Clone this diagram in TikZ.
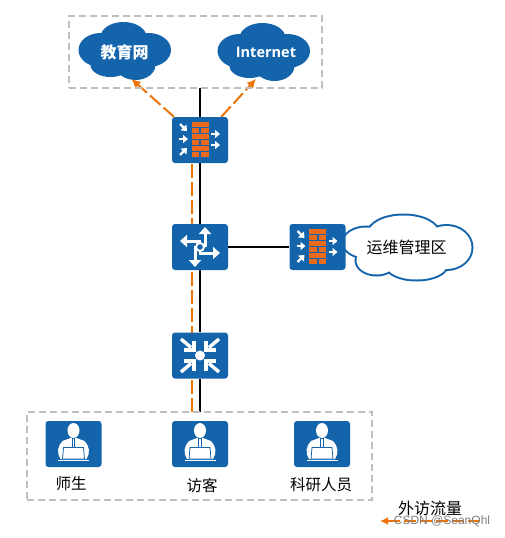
\documentclass[tikz,border=0pt]{standalone}
\usepackage{fontspec}
\setmainfont{Noto Sans CJK SC}
\newfontfamily\latinfont{Open Sans}
\newfontfamily\markfont{Liberation Sans}
\usetikzlibrary{arrows.meta,backgrounds}

\definecolor{iconblue}{HTML}{1464AC}
\definecolor{brick}{HTML}{EC6A1C}
\definecolor{flowcolor}{HTML}{EE7308}
\definecolor{zonegray}{HTML}{BFBFBF}

\tikzset{
	device/.style={fill=iconblue, rounded corners=3pt, minimum width=56pt, minimum height=46pt, inner sep=0pt},
	zone/.style={draw=zonegray, line width=1.8pt, dash pattern=on 7pt off 4pt, inner sep=0pt},
	cloudtext/.style={text=white, font=\fontsize{16}{16}\selectfont\bfseries, inner sep=0pt},
	label/.style={font=\fontsize{15.5}{16}\selectfont, inner sep=0pt},
	link/.style={black, line width=2pt},
	flow/.style={flowcolor, line width=2pt, dash pattern=on 14pt off 4pt},
	whitearrow/.style={white, line width=2.2pt, -{Triangle[length=5pt, width=8pt]}},
	routearrow/.style={white, line width=3pt, -{Triangle[length=7pt, width=12pt]}},
	pics/bluepuffs/.style={code={
		\foreach \px/\py/\rx/\ry in {-24/-1/22/17, -1/-14/23/15, 24/-1/22.5/17, -14/14/20/12, 11/14/20/15}
			\fill[iconblue] (\px,\py) ellipse (\rx pt and \ry pt);
		\fill[iconblue] (-20,-8) rectangle (20,10);
	}},
	pics/openpuffs/.style={code={
		\foreach \px/\py/\rx/\ry in {-3/-14/35/18, -40/-5/23/15, 40/0/25/21.5, -30/13/20/14, 10/18/30/14}
			\draw[iconblue, line width=4pt] (\px,\py) ellipse (\rx pt and \ry pt);
		\foreach \px/\py/\rx/\ry in {-3/-14/35/18, -40/-5/23/15, 40/0/25/21.5, -30/13/20/14, 10/18/30/14}
			\fill[white] (\px,\py) ellipse (\rx pt and \ry pt);
		\fill[white] (-40,-8) rectangle (30,12);
	}},
	pics/firewall/.style={code={
		\foreach \y in {-18,-6,6}
			\fill[brick] (-8.5,\y) rectangle (8.5,\y+5);
		\foreach \y in {-12,0,12} {
			\fill[brick] (-8.5,\y) rectangle (-1,\y+5);
			\fill[brick] (1,\y) rectangle (8.5,\y+5);
		}
		\draw[whitearrow] (-20,-16) -- (-13,-9);
		\draw[whitearrow] (-21,-1) -- (-12,-1);
		\draw[whitearrow] (-20,15) -- (-13,8);
		\draw[whitearrow] (11,-6) -- (20,-6);
		\draw[whitearrow] (11,5) -- (20,5);
	}},
	pics/routing/.style={code={
		\draw[routearrow] (5,0) -- (5,-20);
		\draw[routearrow] (1,-6) -- (-20,-6);
		\draw[routearrow] (-5,-1) -- (-5,20);
		\draw[routearrow] (-1,6) -- (20,6);
		\draw[white, line width=2pt] (0,0) circle (4);
	}},
	pics/switching/.style={code={
		\foreach \sx/\sy in {1/1,1/-1,-1/1,-1/-1} {
			\draw[white, line width=3.4pt] (\sx*19,\sy*16.5) -- (\sx*9,\sy*8);
			\draw[white, line width=3.4pt] (\sx*6,\sy*15) -- (\sx*6,\sy*5.5) -- (\sx*16,\sy*5.5);
		}
		\fill[white] (0,0) circle (5);
	}},
	pics/person/.style={code={
		\fill[white] (0,-13.5) ellipse (6 and 7.5);
		\fill[white] (-3,-6) -- (-11,-3) .. controls (-16,2) and (-17,9) .. (-13,15) -- (13,15) .. controls (17,9) and (16,2) .. (11,-3) -- (3,-6) -- cycle;
		\fill[iconblue] (-1.7,-6) rectangle (1.7,3);
		\fill[white] (-.8,-5) rectangle (.8,3);
		\draw[iconblue, fill=white, line width=.8pt] (-10,3.5) -- (10,3.5) -- (11,15) -- (-11,15) -- cycle;
		\fill[white] (-15.5,15.5) rectangle (15.5,17);
	}},
}

\begin{document}
\begin{tikzpicture}[x=1pt, y=-1pt]
	\useasboundingbox (0,0) rectangle (505,538);

	\node[zone, minimum width=253pt, minimum height=72pt] (zonetop) at (195.5,52) {};
	\node[zone, minimum width=345pt, minimum height=88pt] (zoneusers) at (199.5,456) {};

	\node[cloudtext] (educloud) at (124.5,52) {教育网};
	\node[cloudtext, font=\fontsize{14.5}{16}\selectfont\latinfont\bfseries] (inetcloud) at (266,52.5) {Internet};
	\node[inner sep=0pt, font=\fontsize{16}{16}\selectfont] (opscloud) at (406.5,247.5) {运维管理区};

	\node[device] (fwtop) at (200,140) {};
	\node[device] (router) at (200,247) {};
	\node[device] (fwops) at (317.5,247) {};
	\node[device] (switch) at (200,355.5) {};
	\node[device] (teacher) at (73.5,444) {};
	\node[device] (visitor) at (200,444) {};
	\node[device] (researcher) at (322,444) {};

	\pic at (fwtop) {firewall};
	\pic at (router) {routing};
	\pic at (fwops) {firewall};
	\pic at (switch) {switching};
	\pic at (teacher) {person};
	\pic at (visitor) {person};
	\pic at (researcher) {person};

	\node[label] (teacherlabel) at (71,484) {师生};
	\node[label] (visitorlabel) at (202,486) {访客};
	\node[label] (researcherlabel) at (321,485) {科研人员};
	\node[label, font=\fontsize{16}{16}\selectfont] (legendlabel) at (430,508) {外访流量};

	\coordinate (topend) at (200,88);
	\coordinate (userend) at (200,412);
	\coordinate (flowstart) at (192,412);
	\coordinate (flowfork) at (192,140);
	\coordinate (edutip) at (131.5,79);
	\coordinate (inettip) at (256,79);
	\coordinate (legendstart) at (480,521);
	\coordinate (legendtip) at (380,521);

	\begin{pgfonlayer}{background}
		\pic at (124.5,51) {bluepuffs};
		\pic at (263.5,52) {bluepuffs};
		\pic at (406.5,247.5) {openpuffs};
		\draw[link] (topend) -- (fwtop) -- (router) -- (switch) -- (userend);
		\draw[link] (router) -- (fwops);
		\draw[flow] (flowstart) -- (flowfork);
		\draw[flow, -{Latex[length=9pt, width=9pt]}] (fwtop) -- (edutip);
		\draw[flow, -{Latex[length=9pt, width=9pt]}] (fwtop) -- (inettip);
	\end{pgfonlayer}

	\draw[flow, dash pattern=on 12pt off 4pt, -{Latex[length=8pt, width=8pt]}] (legendstart) -- (legendtip);
	\node[inner sep=0pt, text=black!50, font=\fontsize{12}{12}\selectfont\markfont] (watermark) at (442,521) {CSDN @SeanQhl};
\end{tikzpicture}
\end{document}
